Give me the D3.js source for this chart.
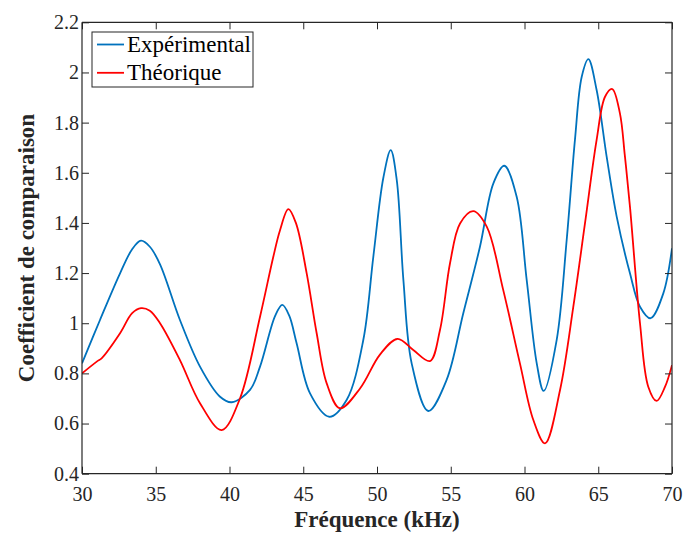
<!DOCTYPE html>
<html><head><meta charset="utf-8">
<script src="https://cdn.jsdelivr.net/npm/d3@7"></script>
<style>body{margin:0;background:#fff}svg{display:block}</style>
</head><body>
<svg id="c" width="683" height="534"></svg>
<script>
const expX = [30,31.22,32.58,33.4,34.0,34.6,35.29,36.64,38.0,39.36,40.15,41.39,42.07,43.1,43.58,44.05,44.55,45.46,46.77,47.94,49.07,49.75,50.43,50.93,51.34,51.79,52.35,53.48,54.72,55.85,56.98,57.89,58.63,59.47,60.15,60.83,61.3,62.18,62.86,63.42,63.88,64.33,64.89,65.57,66.25,67.15,67.83,68.55,69.41,70];
const expY = [0.84,1.013,1.199,1.295,1.329,1.305,1.235,1.013,0.827,0.707,0.685,0.734,0.827,1.03,1.073,1.03,0.92,0.72,0.627,0.694,0.933,1.265,1.58,1.69,1.571,1.172,0.84,0.65,0.774,1.04,1.305,1.558,1.628,1.504,1.172,0.84,0.73,0.933,1.332,1.731,1.983,2.053,1.93,1.664,1.425,1.199,1.066,1.02,1.119,1.299];
const theoX = [30,31.0,31.33,32.58,33.4,34.0,34.6,35.29,36.64,38.0,39.47,40.71,42.07,42.97,43.42,43.99,44.5,45.23,45.91,46.59,47.49,48.85,50.2,51.4,52.46,53.59,54.27,54.95,55.63,56.53,57.44,58.56,59.69,60.6,61.39,62.41,63.31,64.1,64.89,65.46,65.95,66.47,66.8,67.15,67.83,68.39,68.96,69.53,70];
const theoY = [0.8,0.847,0.86,0.96,1.04,1.06,1.05,1.0,0.853,0.681,0.574,0.7,1.026,1.265,1.37,1.455,1.4,1.2,0.96,0.76,0.661,0.74,0.875,0.938,0.893,0.849,0.973,1.239,1.398,1.447,1.385,1.132,0.84,0.614,0.521,0.734,1.066,1.398,1.731,1.903,1.934,1.837,1.67,1.465,1.0,0.747,0.69,0.747,0.833];
const xTicks = [30,35,40,45,50,55,60,65,70];
const yTicks = [0.4,0.6,0.8,1,1.2,1.4,1.6,1.8,2,2.2];
const seriesNames = ["Expérimental","Théorique"];
const seriesColors = ["#0072BD","#FF0000"];

const svg = d3.select("#c");
const L=82,R=672,T=22.3,B=473.7;
const x = d3.scaleLinear().domain([30,70]).range([L,R]);
const y = d3.scaleLinear().domain([0.4,2.2]).range([B,T]);
const font = "'Liberation Serif','Times New Roman',serif";
const axCol = "#262626";

svg.append("defs").append("clipPath").attr("id","pc").append("rect")
  .attr("x",L).attr("y",T).attr("width",R-L).attr("height",B-T);

const line = d3.line().x(d=>x(d[0])).y(d=>y(d[1])).curve(d3.curveCatmullRom.alpha(0.5));
const g = svg.append("g").attr("clip-path","url(#pc)");
[[expX,expY],[theoX,theoY]].forEach((s,i)=>{
  g.append("path").datum(s[0].map((v,j)=>[v,s[1][j]]))
   .attr("d",line).attr("fill","none").attr("stroke",seriesColors[i]).attr("stroke-width",1.8);
});

// axes
const tl = 7;
const bx = svg.append("g").attr("transform",`translate(0,${B})`)
  .call(d3.axisBottom(x).tickValues(xTicks).tickSize(-tl).tickPadding(13).tickFormat(d3.format("d")));
const tx = svg.append("g").attr("transform",`translate(0,${T})`)
  .call(d3.axisTop(x).tickValues(xTicks).tickSize(-tl).tickFormat(""));
const ly = svg.append("g").attr("transform",`translate(${L},0)`)
  .call(d3.axisLeft(y).tickValues(yTicks).tickSize(-tl).tickPadding(3).tickFormat(d=>String(+d.toFixed(1))));
const ry = svg.append("g").attr("transform",`translate(${R},0)`)
  .call(d3.axisRight(y).tickValues(yTicks).tickSize(-tl).tickFormat(""));
[bx,tx,ly,ry].forEach(a=>{
  a.selectAll(".domain").attr("stroke",axCol).attr("stroke-width",1.2);
  a.selectAll(".tick line").attr("stroke",axCol).attr("stroke-width",1);
  a.selectAll("text").attr("fill",axCol).style("font-family",font).style("font-size","20px");
});
bx.selectAll(".domain").attr("d",`M${L},0H${R}`);
tx.selectAll(".domain").attr("d",`M${L},0H${R}`);
ly.selectAll(".domain").attr("d",`M0,${B}V${T}`);
ry.selectAll(".domain").attr("d",`M0,${B}V${T}`);

// labels
svg.append("text").attr("x",(L+R)/2).attr("y",527).attr("text-anchor","middle")
  .style("font-family",font).style("font-size","23px").style("font-weight","bold").attr("fill",axCol)
  .text("Fréquence (kHz)");
svg.append("text").attr("transform",`translate(34,${(T+B)/2}) rotate(-90)`).attr("text-anchor","middle")
  .style("font-family",font).style("font-size","23px").style("font-weight","bold").attr("fill",axCol)
  .text("Coefficient de comparaison");

// legend
const lg = svg.append("g");
lg.append("rect").attr("x",92).attr("y",32).attr("width",161).attr("height",55)
  .attr("fill","#fff").attr("stroke",axCol).attr("stroke-width",1);
seriesNames.forEach((n,i)=>{
  const yy = 44.5 + i*28.3;
  lg.append("line").attr("x1",97).attr("x2",124).attr("y1",yy).attr("y2",yy)
    .attr("stroke",seriesColors[i]).attr("stroke-width",1.8);
  lg.append("text").attr("x",127).attr("y",yy+7.5).text(n)
    .style("font-family",font).style("font-size","23px").attr("fill","#000");
});
</script>
</body></html>
